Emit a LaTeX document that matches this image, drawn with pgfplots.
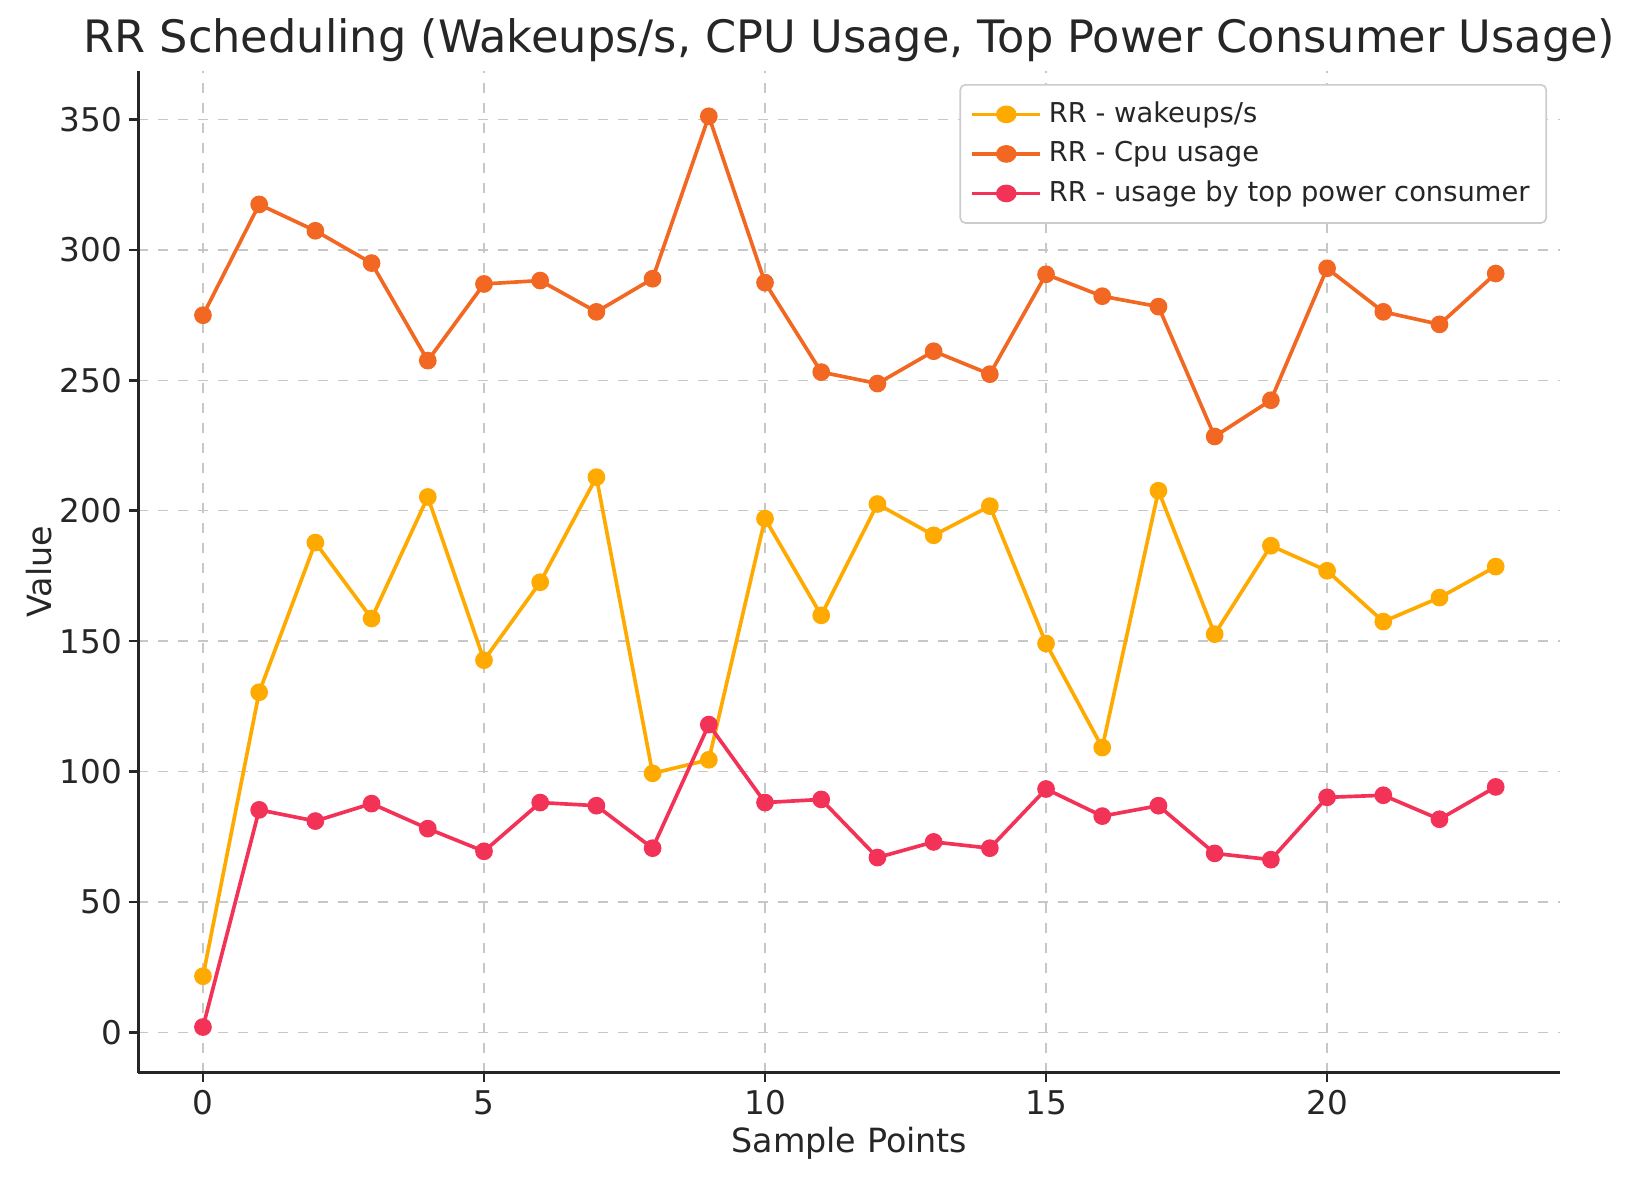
\documentclass[border=0pt]{standalone}
\usepackage{fontspec}
\setmainfont{DejaVu Sans}
\usepackage{pgfplots}
\pgfplotsset{compat=1.18}

\definecolor{wakecol}{RGB}{255,170,0}
\definecolor{cpucol}{RGB}{242,104,34}
\definecolor{powcol}{RGB}{243,50,88}
\definecolor{txt}{RGB}{38,38,38}

\begin{document}
\begin{tikzpicture}
\begin{axis}[
    scale only axis,
    width=426.6pt, height=300.6pt,
    xmin=-1.15, xmax=24.15,
    ymin=-15.5, ymax=368.8,
    xtick={0,5,10,15,20},
    ytick={0,50,100,150,200,250,300,350},
    axis x line*=bottom, axis y line*=left,
    axis line style={-, line width=0.8pt, color=txt},
    tick style={line width=0.8pt, color=txt},
    tick align=outside,
    major tick length=2.8pt,
    grid=major,
    grid style={dashed, line width=0.4pt, color=black!22},
    ticklabel style={font=\fontsize{9.8}{12}\selectfont, color=txt},
    xticklabel style={yshift=1pt},
    yticklabel style={xshift=1.5pt},
    /pgf/number format/assume math mode=true,
    xlabel={Sample Points},
    ylabel={Value},
    label style={font=\fontsize{10}{12}\selectfont, color=txt},
    xlabel style={yshift=3.2pt},
    ylabel style={yshift=-4.5pt},
    title={RR Scheduling (Wakeups/s, CPU Usage, Top Power Consumer Usage)},
    title style={font=\fontsize{13.4}{16}\selectfont, color=txt, yshift=-7pt},
    legend style={at={(rel axis cs:1,1)}, anchor=north east,
        xshift=-4pt, yshift=-4pt,
        font=\fontsize{8.2}{10}\selectfont, text=txt,
        draw=black!20, rounded corners=1.5pt, line width=0.5pt,
        row sep=0.2pt, inner sep=3pt},
    legend cell align=left,
    legend image post style={xscale=1.2},
    every axis plot/.append style={line width=1.1pt, mark=*, mark size=2.1pt},
]
\addplot[color=wakecol, mark options={fill=wakecol, draw=wakecol}] coordinates {
(0,21.5) (1,130.4) (2,187.8) (3,158.7) (4,205.3) (5,142.7) (6,172.6) (7,212.9)
(8,99.3) (9,104.5) (10,197) (11,159.9) (12,202.6) (13,190.6) (14,201.8) (15,149.1)
(16,109.2) (17,207.7) (18,152.7) (19,186.6) (20,177) (21,157.5) (22,166.7) (23,178.6)
};
\addlegendentry{RR - wakeups/s}
\addplot[color=cpucol, mark options={fill=cpucol, draw=cpucol}] coordinates {
(0,275) (1,317.5) (2,307.4) (3,295) (4,257.6) (5,287) (6,288.3) (7,276.3)
(8,289) (9,351.3) (10,287.5) (11,253.2) (12,248.8) (13,261.2) (14,252.4) (15,290.7)
(16,282.3) (17,278.3) (18,228.5) (19,242.4) (20,293) (21,276.3) (22,271.5) (23,291)
};
\addlegendentry{RR - Cpu usage}
\addplot[color=powcol, mark options={fill=powcol, draw=powcol}] coordinates {
(0,2) (1,85.3) (2,81) (3,87.7) (4,78.1) (5,69.4) (6,88.1) (7,86.9)
(8,70.6) (9,118) (10,88.1) (11,89.3) (12,67) (13,73) (14,70.6) (15,93.3)
(16,82.9) (17,86.9) (18,68.6) (19,66.2) (20,90.1) (21,90.9) (22,81.7) (23,94.1)
};
\addlegendentry{RR - usage by top power consumer}
\end{axis}
\pgfresetboundingbox
\path ([xshift=-41.5pt,yshift=-32.2pt]current axis.south west)
  rectangle ([xshift=21.2pt,yshift=21.2pt]current axis.north east);
\end{tikzpicture}
\end{document}
